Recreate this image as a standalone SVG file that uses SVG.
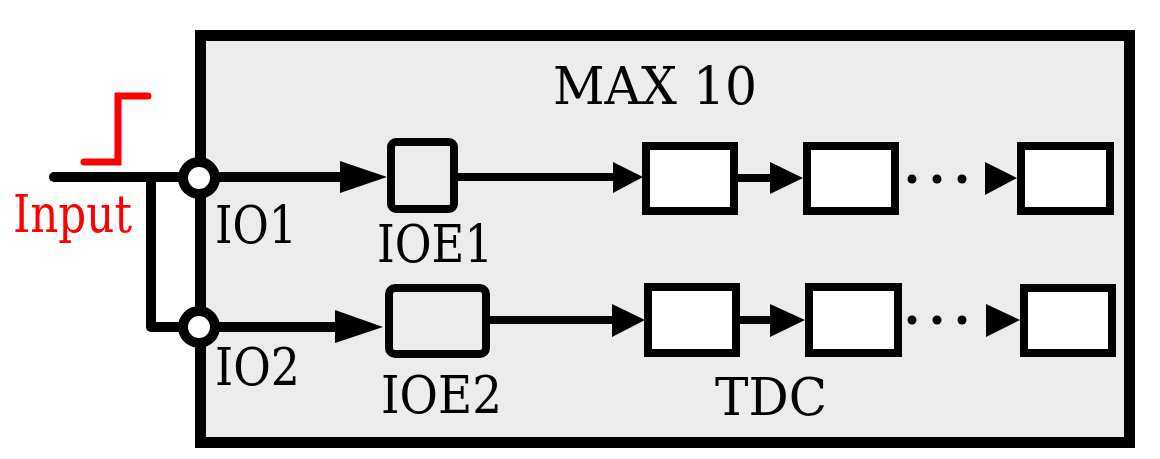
<svg xmlns="http://www.w3.org/2000/svg" width="1160" height="459" viewBox="0 0 1160 459">
<style>
text{font-family:"DejaVu Serif",serif;font-size:53px;fill:#000}
.wire{fill:none;stroke:#000;stroke-width:10;stroke-linecap:round;stroke-linejoin:round}
.thin{fill:none;stroke:#000;stroke-width:8}
.head{fill:#000}
.tdc{fill:#fff;stroke:#000;stroke-width:8}
.ioe{fill:#ececec;stroke:#000;stroke-width:8}
.port{fill:#fff;stroke:#000;stroke-width:10}
</style>
<rect width="1160" height="459" fill="#fff"/>
<g id="max10">
<rect x="200.5" y="35.5" width="929" height="407" fill="#ececec" stroke="#000" stroke-width="11"/>
<text x="553" y="104" font-size="54" textLength="204" lengthAdjust="spacingAndGlyphs">MAX 10</text>
</g>
<g id="input">
<path d="M84 162 H118 V96 H148" fill="none" stroke="#f00" stroke-width="7" stroke-linecap="round"/>
<text x="13" y="232" font-size="52" style="fill:#f00" textLength="119" lengthAdjust="spacingAndGlyphs">Input</text>
</g>
<g id="connectors">
<line class="wire" x1="54" y1="177" x2="199" y2="177"/>
<path class="wire" d="M151 177 V327 H199"/>
<line class="wire" x1="199" y1="177" x2="342" y2="177" stroke-linecap="butt"/>
<polygon class="head" points="340,161 387,177 340,193"/>
<line class="wire" x1="199" y1="327" x2="337" y2="327" stroke-linecap="butt"/>
<polygon class="head" points="335,310 383,327 335,343"/>
<line class="thin" x1="458" y1="177" x2="615" y2="177"/>
<polygon class="head" points="613,162 643,177 613,193"/>
<line class="thin" x1="738" y1="178" x2="772" y2="178"/>
<polygon class="head" points="770,162 803,178 770,194"/>
<polygon class="head" points="985,162 1017,178 985,195"/>
<line class="thin" x1="490" y1="320" x2="614" y2="320"/>
<polygon class="head" points="612,304 645,320 612,337"/>
<line class="thin" x1="740" y1="320" x2="772" y2="320"/>
<polygon class="head" points="770,304 805,320 770,337"/>
<polygon class="head" points="986,304 1020,320 986,337"/>
<circle cx="912" cy="179" r="4.5"/><circle cx="937" cy="179" r="4.5"/><circle cx="962" cy="179" r="4.5"/>
<circle cx="912" cy="320" r="4.5"/><circle cx="937" cy="320" r="4.5"/><circle cx="962" cy="320" r="4.5"/>
</g>
<g id="io1"><circle class="port" cx="199" cy="178" r="16"/><text x="215" y="243" font-size="55" textLength="82" lengthAdjust="spacingAndGlyphs">IO1</text></g>
<g id="io2"><circle class="port" cx="199" cy="327" r="16"/><text x="215" y="385" textLength="85" lengthAdjust="spacingAndGlyphs">IO2</text></g>
<g id="ioe1"><rect class="ioe" x="391" y="142" width="63" height="67" rx="5"/><text x="377" y="262" textLength="116" lengthAdjust="spacingAndGlyphs">IOE1</text></g>
<g id="ioe2"><rect class="ioe" x="389" y="288" width="97" height="66" rx="6"/><text x="381" y="413" textLength="121" lengthAdjust="spacingAndGlyphs">IOE2</text></g>
<g id="tdc1a"><rect class="tdc" x="646" y="146" width="88" height="65"/></g>
<g id="tdc1b"><rect class="tdc" x="807" y="146" width="88" height="65"/></g>
<g id="tdc1c"><rect class="tdc" x="1021" y="146" width="89" height="65"/></g>
<g id="tdc2a"><rect class="tdc" x="648" y="287" width="88" height="66"/></g>
<g id="tdc2b"><rect class="tdc" x="809" y="287" width="89" height="66"/></g>
<g id="tdc2c"><rect class="tdc" x="1024" y="288" width="88" height="65"/></g>
<g id="tdc-label"><text x="715" y="415" font-size="51" textLength="112" lengthAdjust="spacingAndGlyphs">TDC</text></g>
</svg>
